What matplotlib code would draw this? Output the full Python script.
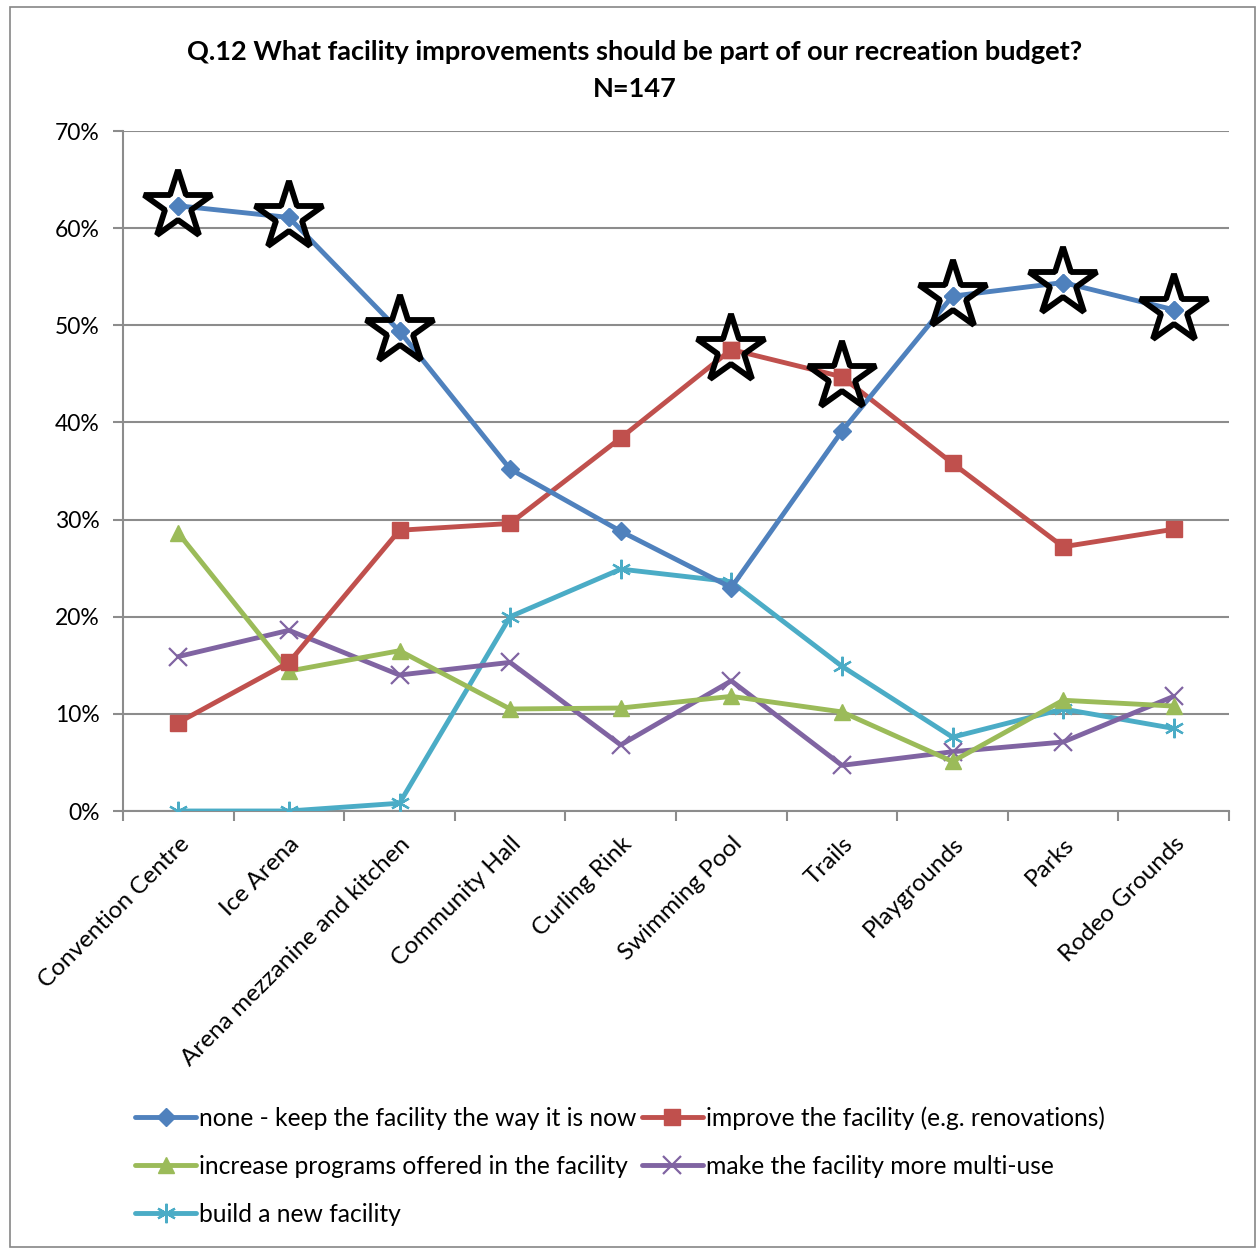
import numpy as np
import matplotlib
matplotlib.use("Agg")
import matplotlib.pyplot as plt
from matplotlib.patches import Rectangle

plt.rcParams['font.family'] = ['Lato', 'DejaVu Sans']

categories = ["Convention Centre", "Ice Arena", "Arena mezzanine and kitchen",
              "Community Hall", "Curling Rink", "Swimming Pool", "Trails",
              "Playgrounds", "Parks", "Rodeo Grounds"]

keep_as_is = [62.3, 61.1, 49.4, 35.2, 28.8, 23.0, 39.1, 53.0, 54.4, 51.6]
improve = [9.1, 15.3, 28.9, 29.6, 38.4, 47.5, 44.7, 35.8, 27.2, 29.0]
more_programs = [28.6, 14.4, 16.5, 10.5, 10.6, 11.8, 10.2, 5.1, 11.4, 10.8]
multi_use = [15.9, 18.6, 14.0, 15.3, 6.8, 13.4, 4.7, 6.1, 7.1, 11.8]
build_new = [0.0, 0.0, 0.8, 20.0, 24.9, 23.6, 14.9, 7.6, 10.5, 8.5]

series_names = ["none - keep the facility the way it is now",
                "improve the facility (e.g. renovations)",
                "increase programs offered in the facility",
                "make the facility more multi-use",
                "build a new facility"]

y_ticks = [0, 10, 20, 30, 40, 50, 60, 70]

# responses above this share get a star
star_threshold = 40

series = [keep_as_is, improve, more_programs, multi_use, build_new]
colors = ["#4F81BD", "#C0504D", "#9BBB59", "#8064A2", "#4BACC6"]
markers = ["D", "s", "^", "x", (6, 2, 0)]
msizes = [9, 12, 12, 13, 14]

fig = plt.figure(figsize=(12.57, 12.49), dpi=100)
fig.patches.append(Rectangle((10 / 1257, 2 / 1249), 1245 / 1257, 1240 / 1249,
                             transform=fig.transFigure, fill=False,
                             edgecolor="#868686", linewidth=1.2))

ax = fig.add_axes([123 / 1257, 1 - 811 / 1249, 1106 / 1257, 680 / 1249])
x = np.arange(len(categories))

data = np.array(series)

lines = []
for i, (vals, c, m, ms) in enumerate(zip(series, colors, markers, msizes)):
    mew = 1.6 if i >= 3 else 1.0
    ln, = ax.plot(x, vals, color=c, linewidth=3.5, marker=m, markersize=ms,
                  markerfacecolor=c, markeredgecolor=c, markeredgewidth=mew,
                  zorder=4 + 0.1 * (5 - i), label=series_names[i],
                  solid_capstyle="round")
    lines.append(ln)

# Star the responses that exceed the threshold
s_idx, c_idx = np.nonzero(data > star_threshold)
s_vals = data[s_idx, c_idx]
ax.plot(c_idx, s_vals, linestyle="none", marker="*", markersize=52,
        markerfacecolor="white", markeredgecolor="none", zorder=3)
ax.plot(c_idx, s_vals, linestyle="none", marker="*", markersize=52,
        markerfacecolor="none", markeredgecolor="black", markeredgewidth=4.2,
        zorder=5)
for k, j, v in zip(s_idx, c_idx, s_vals):
    ax.plot([j], [v], linestyle="none", marker=markers[k],
            markersize=msizes[k], color=colors[k], zorder=6)

ax.set_xlim(-0.5, len(categories) - 0.5)
ax.set_ylim(0, 70)
ax.set_yticks(y_ticks)
ax.set_yticklabels([f"{v}%" for v in y_ticks], fontsize=16.5)
ax.yaxis.grid(True, color="#8C8C8C", linewidth=1.5)
ax.set_axisbelow(True)

ax.set_xticks(np.arange(-0.5, len(categories), 1.0))
ax.set_xticklabels([])
ax.set_xticks(x, minor=True)
ax.set_xticklabels(categories, minor=True, rotation=45, ha="right",
                   va="top", rotation_mode="anchor", fontsize=17.5)
ax.tick_params(axis="x", which="minor", length=0, pad=16)
ax.tick_params(axis="x", which="major", length=7, width=1.5, color="#8C8C8C",
               direction="out")
ax.tick_params(axis="y", length=7, width=1.5, color="#8C8C8C", pad=10)

for side in ["top", "right"]:
    ax.spines[side].set_visible(False)
for side in ["left", "bottom"]:
    ax.spines[side].set_color("#8C8C8C")
    ax.spines[side].set_linewidth(1.5)

fig.text(635 / 1257, 1 - 52 / 1249, "Q.12 What facility improvements should be part of our recreation budget?",
         ha="center", va="center", fontsize=19.5, fontweight="bold")
fig.text(635 / 1257, 1 - 89 / 1249, "N=147", ha="center", va="center",
         fontsize=19.5, fontweight="bold")

order = [0, 2, 4, 1, 3]
leg = fig.legend([lines[i] for i in order], [series_names[i] for i in order],
                 ncol=2, loc="upper left",
                 bbox_to_anchor=(135 / 1257, 1 - 1106 / 1249),
                 frameon=False, fontsize=17.7, handlelength=2.5,
                 handletextpad=0.12, columnspacing=0.2, labelspacing=1.02,
                 borderaxespad=0, borderpad=0)

fig.savefig("out.png", dpi=100, facecolor="white")
